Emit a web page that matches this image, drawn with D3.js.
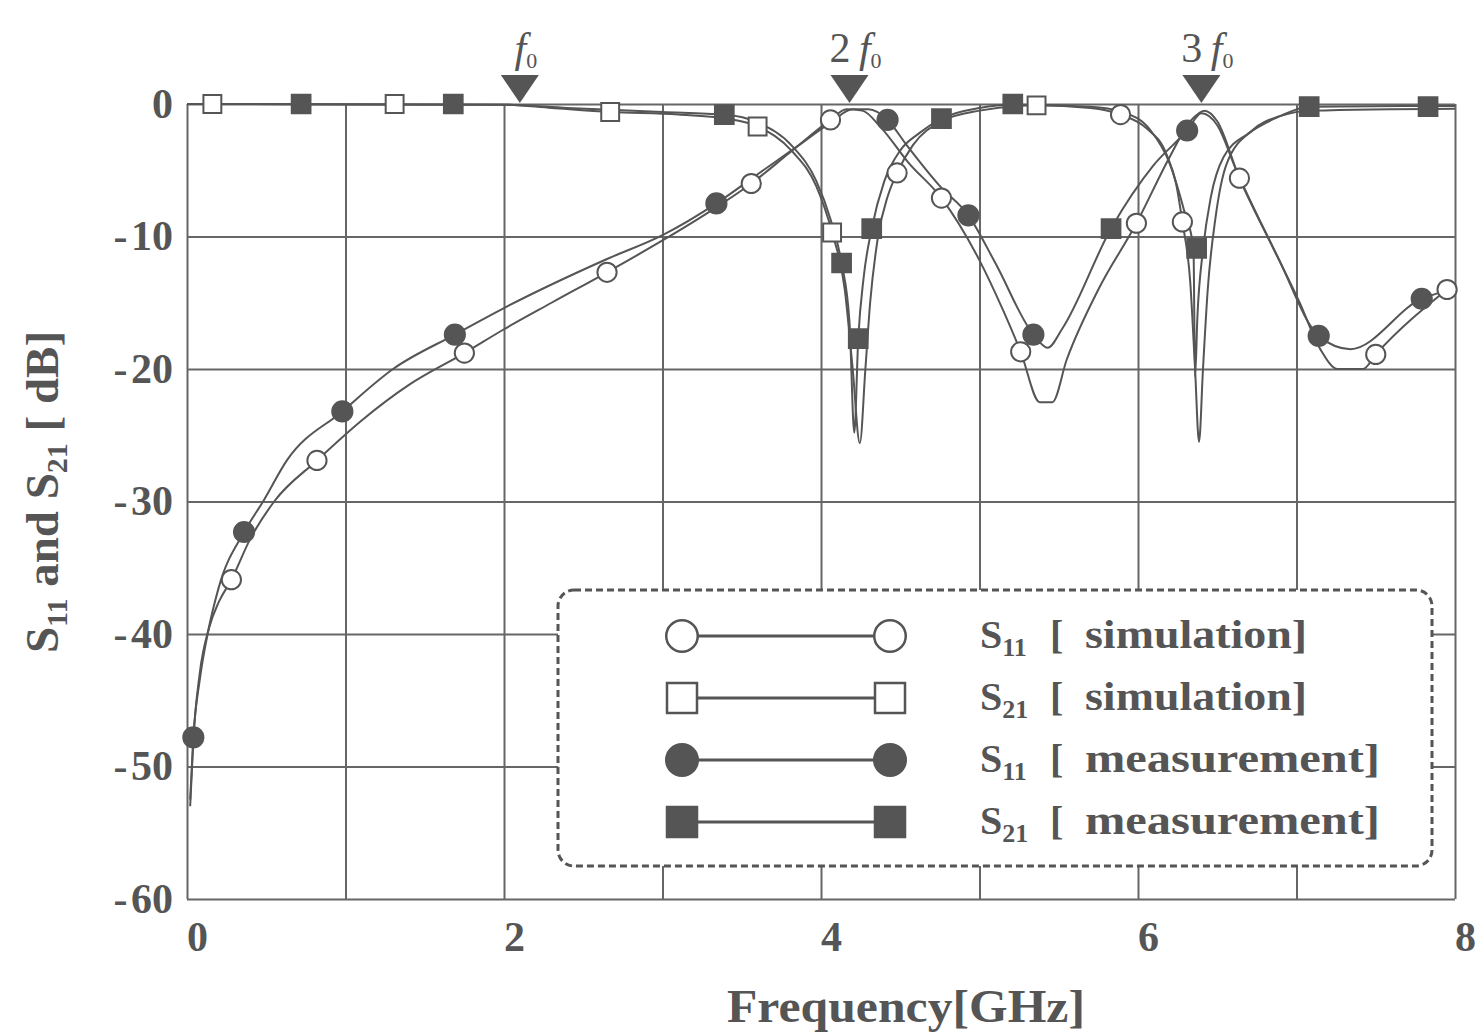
<!DOCTYPE html>
<html>
<head>
<meta charset="utf-8">
<script src="https://cdn.jsdelivr.net/npm/d3@7"></script>
<style>
  body { margin: 0; background: #fff; }
  text { font-family: "Liberation Serif", "Times New Roman", serif; font-weight: bold; fill: #555; }
</style>
</head>
<body>
<svg id="chart" width="1480" height="1034"></svg>
<script>
// axis ticks
const xTicks = [0, 1, 2, 3, 4, 5, 6, 7, 8];
const xLabels = [0, 2, 4, 6, 8];
const yTicks = [0, -10, -20, -30, -40, -50, -60];

// harmonic markers (GHz)
const harmonics = [2.1, 4.18, 6.4];
const harmonicPrefix = ["", "2\u2009", "3\u2009"];

// S11 simulation
const s11SimLine = [[0.02,-53],[0.04,-48],[0.08,-43],[0.14,-39.5],[0.2,-37.6],[0.28,-35.9],[0.4,-32.8],[0.55,-30],
  [0.82,-26.9],[1.1,-23.9],[1.4,-21.2],[1.75,-18.8],[2.0,-17.0],[2.3,-15.0],[2.65,-12.7],[3.0,-10.3],[3.3,-8.1],
  [3.56,-6.0],[3.8,-3.7],[4.06,-1.2],[4.16,-0.4],[4.26,-0.5],[4.38,-1.8],[4.55,-4.4],[4.76,-7.1],[5.0,-11.8],
  [5.15,-15.6],[5.26,-18.7],[5.38,-22.5],[5.46,-22.5],[5.55,-19.3],[5.75,-14.0],[5.99,-9.0],[6.2,-4.0],[6.33,-1.3],
  [6.42,-0.5],[6.5,-1.3],[6.64,-5.6],[6.85,-10.8],[7.02,-15],[7.15,-18.5],[7.26,-20],[7.42,-20],[7.5,-18.9],[7.95,-14]];
const s11SimMarks = [[0.28,-35.9],[0.82,-26.9],[1.75,-18.8],[2.65,-12.7],[3.56,-6.0],[4.06,-1.2],[4.48,-5.2],
  [4.76,-7.1],[5.26,-18.7],[5.89,-0.8],[5.99,-9.0],[6.28,-8.9],[6.64,-5.6],[7.5,-18.9],[7.95,-14]];

// S11 measurement
const s11MeasLine = [[0.02,-52.5],[0.04,-47.8],[0.08,-43.5],[0.13,-40],[0.2,-36.5],[0.36,-32.3],[0.48,-30],[0.63,-26.9],
  [0.98,-23.2],[1.3,-20],[1.69,-17.4],[2.0,-15.4],[2.65,-11.7],[3.0,-9.9],[3.34,-7.5],[3.6,-5.3],[3.85,-3.2],[4.06,-1.4],
  [4.2,-0.4],[4.3,-0.4],[4.42,-1.2],[4.54,-3.1],[4.75,-6.2],[4.93,-8.4],[5.1,-12],[5.34,-17.4],[5.43,-18.4],[5.52,-17],
  [5.83,-9.4],[6.1,-4.6],[6.31,-2.0],[6.4,-0.7],[6.5,-1.6],[6.62,-5.0],[6.88,-11.5],[7.14,-17.5],[7.34,-18.5],
  [7.79,-14.7],[7.92,-14.2]];
const s11MeasMarks = [[0.04,-47.8],[0.36,-32.3],[0.98,-23.2],[1.69,-17.4],[3.34,-7.5],[4.42,-1.2],[4.93,-8.4],
  [5.34,-17.4],[6.31,-2.0],[7.14,-17.5],[7.79,-14.7]];

// S21 simulation
const s21SimLine = [[0,0],[2.0,-0.05],[2.3,-0.3],[2.67,-0.6],[3.1,-0.8],[3.4,-1.1],[3.6,-1.7],[3.82,-3.6],[3.97,-6.2],
  [4.07,-9.7],[4.15,-14],[4.2,-20],[4.245,-25.6],[4.28,-20],[4.31,-15],[4.36,-10],[4.42,-7],[4.48,-5.2],[4.58,-3.1],
  [4.76,-1.3],[5.0,-0.5],[5.36,-0.1],[5.7,-0.3],[5.89,-0.8],[6.05,-1.8],[6.18,-3.8],[6.24,-6],[6.28,-8.9],[6.33,-13.5],
  [6.36,-20],[6.385,-25.5],[6.41,-20],[6.44,-14],[6.49,-8.5],[6.56,-4.5],[6.72,-2],[6.9,-0.9],[7.1,-0.5],[8,-0.35]];
const s21SimMarks = [[0.16,0],[1.31,0],[2.67,-0.6],[3.6,-1.7],[4.07,-9.7],[5.36,-0.1]];

// S21 measurement
const s21MeasLine = [[0,0],[2.0,-0.05],[2.4,-0.3],[3.0,-0.6],[3.39,-0.8],[3.6,-1.4],[3.82,-3.2],[3.97,-5.8],[4.06,-8.7],
  [4.13,-12],[4.18,-16.5],[4.21,-24.8],[4.235,-17.7],[4.27,-13],[4.32,-9.4],[4.4,-5.8],[4.5,-3.5],[4.62,-2.2],[4.76,-1.1],
  [5.0,-0.3],[5.21,-0.05],[5.7,-0.2],[5.9,-0.6],[6.08,-2],[6.2,-4.5],[6.29,-8],[6.35,-10.9],[6.36,-20.6],[6.375,-16],
  [6.41,-11],[6.46,-7],[6.54,-4],[6.7,-2.2],[6.9,-0.9],[7.08,-0.2],[8,-0.15]];
const s21MeasMarks = [[0.72,0],[1.68,0],[3.39,-0.8],[4.13,-12],[4.235,-17.7],[4.32,-9.4],[4.76,-1.1],[5.21,0],
  [5.83,-9.4],[6.37,-10.9],[7.08,-0.2],[7.83,-0.2]];

// legend
const legendParams = ["11", "21", "11", "21"];
const legendNames = ["simulation]", "simulation]", "measurement]", "measurement]"];

const grey = "#555";
const svg = d3.select("#chart");

const x = d3.scaleLinear().domain([0, 8]).range([187, 1455]);
const y = d3.scaleLinear().domain([-60, 0]).range([899, 104]);

// grid + x axis
const gx = svg.append("g")
  .attr("transform", `translate(0,${y(-60)})`)
  .call(d3.axisBottom(x).tickValues(xTicks).tickSize(-(y(-60) - y(0)))
    .tickFormat(d => xLabels.includes(d) ? d : ""));
gx.select(".domain").remove();
gx.selectAll("line").attr("stroke", "#666").attr("stroke-width", 2);
gx.selectAll("text").attr("y", 22).attr("dy", "0.71em").attr("dx", 10)
  .style("font-size", "42px");

// grid + y axis
const gy = svg.append("g")
  .attr("transform", `translate(${x(0)},0)`)
  .call(d3.axisLeft(y).tickValues(yTicks).tickSize(-(x(8) - x(0)))
    .tickFormat(d => d === 0 ? "0" : "-\u200A" + (-d)));
gy.select(".domain").remove();
gy.selectAll("line").attr("stroke", "#666").attr("stroke-width", 2);
gy.selectAll("text").attr("x", -14).style("font-size", "42px");

// curves
const line = d3.line().x(d => x(d[0])).y(d => y(d[1])).curve(d3.curveMonotoneX);
[s11SimLine, s11MeasLine, s21SimLine, s21MeasLine].forEach(pts => {
  svg.append("path").attr("d", line(pts))
    .attr("fill", "none").attr("stroke", grey).attr("stroke-width", 2);
});

function drawMarks(g, pts, shape, filled, size) {
  g.selectAll(null).data(pts).enter().append("path")
    .attr("transform", d => `translate(${x(d[0])},${y(d[1])})`)
    .attr("d", d3.symbol().type(shape).size(size))
    .attr("fill", filled ? grey : "#fff")
    .attr("stroke", grey).attr("stroke-width", 2);
}
const marks = svg.append("g");
drawMarks(marks, s11SimMarks, d3.symbolCircle, false, 290);
drawMarks(marks, s21SimMarks, d3.symbolSquare, false, 320);
drawMarks(marks, s11MeasMarks, d3.symbolCircle, true, 320);
drawMarks(marks, s21MeasMarks, d3.symbolSquare, true, 350);

// harmonic triangles and labels
harmonics.forEach((f, i) => {
  const cx = x(f);
  svg.append("path").attr("d", `M${cx - 19},75 L${cx + 19},75 L${cx},103 Z`).attr("fill", grey);
  const t = svg.append("text").attr("x", cx + 6).attr("y", 62).attr("text-anchor", "middle")
    .style("font-size", "42px").style("font-weight", "normal");
  t.append("tspan").text(harmonicPrefix[i]);
  t.append("tspan").style("font-style", "italic").text("f");
  t.append("tspan").attr("dy", 6).style("font-size", "22px").text("0");
});

// legend
const lg = svg.append("g");
lg.append("rect").attr("x", 558).attr("y", 590).attr("width", 874).attr("height", 276).attr("rx", 16)
  .attr("fill", "#fff").attr("stroke", grey).attr("stroke-width", 3).attr("stroke-dasharray", "7,4");
const legendShapes = [d3.symbolCircle, d3.symbolSquare, d3.symbolCircle, d3.symbolSquare];
const legendFilled = [false, false, true, true];
legendNames.forEach((name, i) => {
  const ly = 636 + i * 62;
  lg.append("line").attr("x1", 682).attr("x2", 890).attr("y1", ly).attr("y2", ly)
    .attr("stroke", grey).attr("stroke-width", 3);
  [682, 890].forEach(lx => {
    lg.append("path").attr("transform", `translate(${lx},${ly})`)
      .attr("d", d3.symbol().type(legendShapes[i]).size(legendShapes[i] === d3.symbolCircle ? 780 : 900))
      .attr("fill", legendFilled[i] ? grey : "#fff").attr("stroke", grey).attr("stroke-width", 2.5);
  });
  const t = lg.append("text").attr("x", 980).attr("y", ly + 12).style("font-size", "40px");
  t.append("tspan").text("S");
  t.append("tspan").attr("dy", 8).style("font-size", "26px").text(legendParams[i]);
  lg.append("text").attr("x", 1050).attr("y", ly + 12).style("font-size", "40px").text("[");
  lg.append("text").attr("x", 1085).attr("y", ly + 12).style("font-size", "40px")
    .attr("textLength", name.length > 11 ? 295 : 222).attr("lengthAdjust", "spacingAndGlyphs").text(name);
});

// axis titles
svg.append("text").attr("x", x(4) + 85).attr("y", 1022).attr("text-anchor", "middle")
  .style("font-size", "46px").attr("textLength", 358).attr("lengthAdjust", "spacingAndGlyphs")
  .text("Frequency[GHz]");

const yt = svg.append("text").attr("transform", "translate(58,492) rotate(-90)")
  .attr("text-anchor", "middle").style("font-size", "47px");
yt.append("tspan").text("S");
yt.append("tspan").attr("dy", 9).style("font-size", "30px").text("11");
yt.append("tspan").attr("dy", -9).text(" and S");
yt.append("tspan").attr("dy", 9).style("font-size", "30px").text("21");
yt.append("tspan").attr("dy", -9).text(" [ dB]");
</script>
</body>
</html>
